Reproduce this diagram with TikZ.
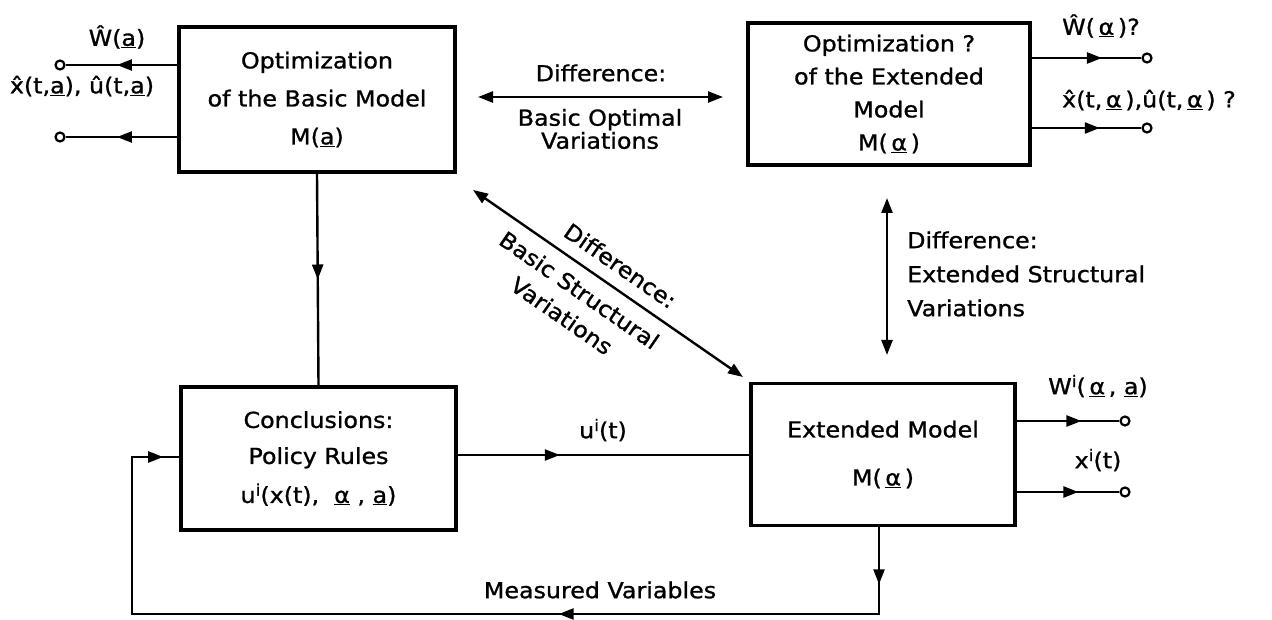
\documentclass[tikz,border=0pt]{standalone}
\usepackage{fontspec}
\setmainfont{DejaVu Sans}[FakeStretch=1.08,FakeBold=1.1]
\usetikzlibrary{arrows.meta,decorations.markings}
\newcommand{\supi}{\raisebox{0.6ex}{\fontsize{16}{16}\selectfont i}}
\tikzset{
  box/.style={draw, line width=3.6pt, inner sep=0pt, align=center, font=\fontsize{22}{#1}\selectfont},
  conn/.style={line width=2.4pt},
  tipat/.style={postaction={decorate, decoration={markings, mark=at position #1 with {\arrow{Triangle[length=15pt,width=11pt]}}}}},
  term/.style={circle, draw, line width=2.2pt, inner sep=0pt, minimum size=9pt, fill=white},
  lbl/.style={inner sep=0pt, font=\fontsize{22}{30}\selectfont},
  dbl/.style={line width=2.4pt, {Triangle[length=15pt,width=11pt]}-{Triangle[length=15pt,width=11pt]}},
}
\begin{document}
\begin{tikzpicture}[x=1pt,y=-1pt]
\useasboundingbox (0,0) rectangle (1272,620);

% boxes
\node[box=38, minimum width=276pt, minimum height=145pt] (b1) at (317,99.5)
  {Optimization\\of the Basic Model\\M(\underline{a})};
\node[box=33, minimum width=282pt, minimum height=142pt] (b2) at (889,94)
  {Optimization ?\\of the Extended\\Model\\M(\,\underline{α}\,)};
\node[box=36, minimum width=275pt, minimum height=143pt] (b3) at (318.5,458.5)
  {Conclusions:\\Policy Rules\\[3pt]u\supi(x(t),\ \ \underline{α}\ , \underline{a})};
\node[box=48, minimum width=264pt, minimum height=142pt] (b4) at (883,454.5)
  {Extended Model\\M(\,\underline{α}\,)};

% terminals
\node[term] (t1) at (60,65) {};
\node[term] (t2) at (60,137) {};
\node[term] (t3) at (1147,58) {};
\node[term] (t4) at (1147,128) {};
\node[term] (t5) at (1125,421) {};
\node[term] (t6) at (1125,492) {};

% outputs
\draw[conn, tipat=0.54] (b1.west |- t1) -- (t1);
\draw[conn, tipat=0.54] (b1.west |- t2) -- (t2);
\draw[conn, tipat=0.64] (b2.east |- t3) -- (t3);
\draw[conn, tipat=0.62] (b2.east |- t4) -- (t4);
\draw[conn, tipat=0.63] (b4.east |- t5) -- (t5);
\draw[conn, tipat=0.6] (b4.east |- t6) -- (t6);

\node[lbl] (l1) at (117,37) {Ŵ(\underline{a})};
\node[lbl] (l2) at (82,86) {x̂(t,\underline{a}), û(t,\underline{a})};
\node[lbl] (l3) at (1101,26) {Ŵ(\,\underline{α}\,)?};
\node[lbl] (l4) at (1149,100) {x̂(t,\,\underline{α}\,),û(t,\,\underline{α}\,) ?};
\node[lbl] (l5) at (1098,386) {W\supi(\,\underline{α}\,, \underline{a})};
\node[lbl] (l6) at (1098,460) {x\supi(t)};

% vertical b1 -> b3
\draw[conn, tipat=0.5] (b1.south) -- (b3.north);

% b3 -> b4
\draw[conn, tipat=0.35] (b3.east |- 0,455) -- (b4.west |- 0,455);
\node[lbl] (lu) at (603,430) {u\supi(t)};

% feedback
\coordinate (f1) at (879,614);
\coordinate (f2) at (132,614);
\coordinate (f3) at (132,457);
\draw[conn, tipat=57pt, tipat=407pt, tipat=-16pt]
  (b4.south -| f1) -- (f1) -- (f2) -- (f3) -- (b3.west |- f3);
\node[lbl] (lm) at (600,590) {Measured Variables};

% top double arrow
\coordinate (h1) at (478,97);
\coordinate (h2) at (723,97);
\draw[dbl] (h1) -- (h2);
\node[lbl] (ld1) at (601,73) {Difference:};
\node[lbl, align=center, font=\fontsize{22}{23}\selectfont] (ld2) at (600,129) {Basic Optimal\\Variations};

% diagonal double arrow
\coordinate (d1) at (473,190);
\coordinate (d2) at (743,377);
\draw[dbl] (d1) -- (d2)
  node[lbl, sloped, pos=0.5, above=12pt] (ld3) {Difference:}
  node[lbl, sloped, pos=0.44, below=12pt, align=center, font=\fontsize{22}{31}\selectfont] (ld4) {Basic Structural\\Variations};

% right vertical double arrow
\coordinate (v1) at (887,198);
\coordinate (v2) at (887,355);
\draw[dbl] (v1) -- (v2);
\node[lbl, anchor=west, align=left, font=\fontsize{22}{34}\selectfont] (ld5) at (907,274)
  {Difference:\\Extended Structural\\Variations};
\end{tikzpicture}
\end{document}
